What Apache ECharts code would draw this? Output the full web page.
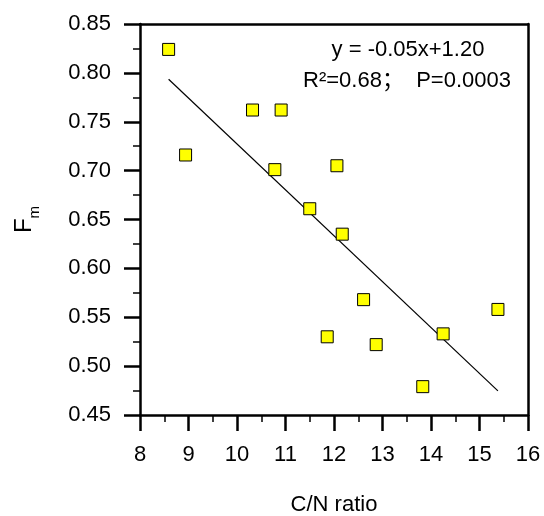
<!DOCTYPE html>
<html>
<head>
<meta charset="utf-8">
<script src="https://cdn.jsdelivr.net/npm/echarts@6/dist/echarts.min.js"></script>
<style>
html,body{margin:0;padding:0;background:#fff;}
#chart{width:544px;height:516px;}
</style>
</head>
<body>
<div id="chart"></div>
<script>
// C/N ratio (x) and Fm (y)
var cnRatio = [8.59, 8.94, 10.32, 10.91, 10.78, 12.06, 11.50, 12.17, 12.61, 11.86, 12.87, 13.83, 14.25, 15.38];
var fmValues = [0.824, 0.716, 0.762, 0.762, 0.701, 0.705, 0.661, 0.635, 0.568, 0.530, 0.522, 0.479, 0.533, 0.558];
// regression line end points
var fitX = [8.59, 15.38];
var fitY = [0.7935, 0.4747];
var xTicks = {min: 8, max: 16, interval: 1};
var yTicks = {min: 0.45, max: 0.85, interval: 0.05};
var eqText = 'y = -0.05x+1.20';
var statText = 'R²=0.68；  P=0.0003';

var FONT = '"Liberation Sans", Arial, "Noto Sans CJK SC", sans-serif';
var chart = echarts.init(document.getElementById('chart'));
var scatterData = cnRatio.map(function(x, i){ return [x, fmValues[i]]; });
var lineData = fitX.map(function(x, i){ return [x, fitY[i]]; });

var frameAxis = {
  axisLine: {show: true, lineStyle: {color: '#000', width: 2.5}},
  axisTick: {show: false}, axisLabel: {show: false}, splitLine: {show: false}
};

chart.setOption({
  animation: false,
  backgroundColor: '#fff',
  grid: {left: 140, right: 16, top: 24, bottom: 101, containLabel: false, outerBoundsMode: 'none'},
  xAxis: [{
    type: 'value', min: xTicks.min, max: xTicks.max, interval: xTicks.interval,
    name: 'C/N ratio', nameLocation: 'middle', nameGap: 79,
    nameTextStyle: {fontFamily: FONT, fontSize: 22, color: '#000'},
    axisLine: {lineStyle: {color: '#000', width: 2.5}},
    axisTick: {length: 16, lineStyle: {color: '#000', width: 2.5}},
    minorTick: {show: true, splitNumber: 2, length: 7, lineStyle: {color: '#000', width: 1.5}},
    axisLabel: {fontFamily: FONT, fontSize: 22, color: '#000', margin: 29},
    splitLine: {show: false}
  }, Object.assign({type: 'value', position: 'top', min: xTicks.min, max: xTicks.max, interval: xTicks.interval}, frameAxis)],
  yAxis: [{
    type: 'value', min: yTicks.min, max: yTicks.max, interval: yTicks.interval,
    name: '{f|F}{s|m}', nameLocation: 'middle', nameGap: 98,
    nameTextStyle: {fontFamily: FONT, color: '#000',
      rich: {
        f: {fontFamily: FONT, fontSize: 24, color: '#000', lineHeight: 30, verticalAlign: 'top'},
        s: {fontFamily: FONT, fontSize: 15, color: '#000', lineHeight: 30, verticalAlign: 'bottom'}
      }},
    axisLine: {lineStyle: {color: '#000', width: 2.5}},
    axisTick: {length: 16, lineStyle: {color: '#000', width: 2.5}},
    minorTick: {show: true, splitNumber: 2, length: 7, lineStyle: {color: '#000', width: 1.5}},
    axisLabel: {fontFamily: FONT, fontSize: 22, color: '#000', margin: 29,
      formatter: function(v){ return v.toFixed(2); }},
    splitLine: {show: false}
  }, Object.assign({type: 'value', position: 'right', min: yTicks.min, max: yTicks.max, interval: yTicks.interval}, frameAxis)],
  series: [
    {
      type: 'line', data: lineData, symbol: 'none', silent: true,
      lineStyle: {color: '#000', width: 1.2}, z: 2
    },
    {
      type: 'scatter', data: scatterData, symbol: 'rect', symbolSize: 12,
      itemStyle: {color: '#ffff00', borderColor: '#000', borderWidth: 1, opacity: 1}, z: 3
    }
  ],
  graphic: [
    {type: 'text', x: 408, y: 50,
     style: {text: eqText, font: '22px ' + FONT, fill: '#000', align: 'center', verticalAlign: 'middle'}},
    {type: 'text', x: 407, y: 81,
     style: {text: statText, font: '22px ' + FONT, fill: '#000', align: 'center', verticalAlign: 'middle'}}
  ]
});
</script>
</body>
</html>
